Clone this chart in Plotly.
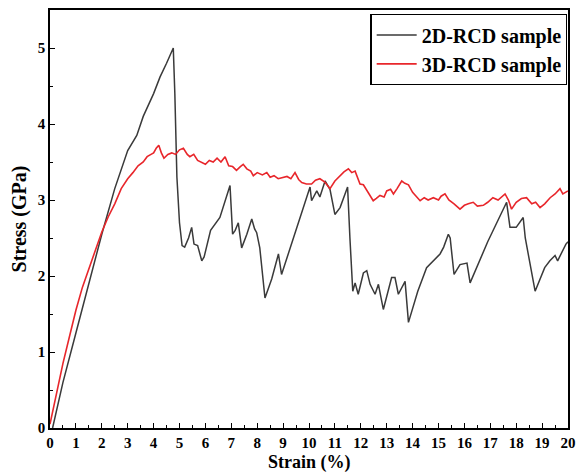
import plotly.graph_objects as go

strain_2d = [0.1, 0.5, 1.0, 1.5, 2.0, 2.5, 3.0, 3.35, 3.6, 4.0, 4.25, 4.5, 4.76, 4.82, 4.9, 5.0, 5.1, 5.2,
             5.35, 5.47, 5.56, 5.7, 5.86, 5.95, 6.2, 6.56, 6.95, 7.05, 7.15, 7.27, 7.4, 7.6, 7.79, 7.9, 7.98,
             8.1, 8.3, 8.56, 8.82, 8.94, 9.5, 10.04, 10.1, 10.3, 10.42, 10.62, 10.81, 11.0, 11.2, 11.49,
             11.58, 11.69, 11.78, 11.9, 12.1, 12.23, 12.36, 12.55, 12.68, 12.87, 13.19, 13.32, 13.45, 13.6,
             13.71, 13.84, 14.2, 14.54, 14.8, 15.06, 15.2, 15.38, 15.45, 15.6, 15.83, 16.1, 16.22, 16.9,
             17.63, 17.7, 17.76, 18.0, 18.27, 18.35, 18.47, 18.73, 19.1, 19.3, 19.5, 19.6, 19.92, 20.0]
stress_2d = [0.0, 0.6, 1.25, 1.9, 2.55, 3.15, 3.65, 3.85, 4.1, 4.4, 4.62, 4.8, 5.0, 4.4, 3.3, 2.7, 2.4, 2.38,
             2.5, 2.64, 2.42, 2.4, 2.2, 2.25, 2.6, 2.77, 3.19, 2.55, 2.6, 2.7, 2.37, 2.55, 2.75, 2.62, 2.57,
             2.37, 1.71, 1.96, 2.29, 2.02, 2.6, 3.17, 2.99, 3.12, 3.04, 3.25, 3.14, 2.81, 2.9, 3.17,
             2.5, 1.8, 1.91, 1.76, 2.04, 2.07, 1.89, 1.76, 1.89, 1.56, 1.98, 1.98, 1.76, 1.85,
             1.93, 1.39, 1.8, 2.11, 2.2, 2.29, 2.38, 2.55, 2.5, 2.02, 2.15, 2.17, 1.91, 2.45,
             2.97, 2.8, 2.64, 2.64, 2.77, 2.5, 2.29, 1.8, 2.11, 2.2, 2.27, 2.2, 2.42, 2.45]

strain_3d = [0, 0.25, 0.5, 0.75, 1.0, 1.25, 1.5, 1.75, 2.0, 2.25, 2.5, 2.75, 3.0, 3.2, 3.4, 3.6, 3.75, 3.9,
             4.0, 4.1, 4.2, 4.3, 4.4, 4.55, 4.7, 4.85, 5.0, 5.15, 5.3, 5.4, 5.55, 5.7, 5.85, 6.0, 6.15, 6.3,
             6.45, 6.6, 6.76, 6.9, 7.05, 7.2, 7.35, 7.46, 7.6, 7.75, 7.85, 8.0, 8.2, 8.37, 8.5, 8.65, 8.81,
             9.0, 9.15, 9.3, 9.46, 9.6, 9.72, 9.9, 10.1, 10.25, 10.42, 10.6, 10.81, 11.0, 11.2, 11.35, 11.52,
             11.65, 11.78, 11.9, 11.97, 12.1, 12.3, 12.48, 12.6, 12.74, 12.9, 13.0, 13.15, 13.26, 13.4,
             13.58, 13.7, 13.84, 14.0, 14.15, 14.29, 14.45, 14.6, 14.8, 15.0, 15.1, 15.25, 15.4, 15.6,
             15.83, 16.0, 16.15, 16.34, 16.5, 16.73, 16.9, 17.1, 17.3, 17.57, 17.7, 17.82, 18.0, 18.2,
             18.4, 18.6, 18.75, 18.92, 19.1, 19.31, 19.5, 19.69, 19.8, 19.92, 20.0]
stress_3d = [0.05, 0.45, 0.85, 1.2, 1.55, 1.85, 2.1, 2.35, 2.58, 2.78, 2.95, 3.15, 3.28, 3.36, 3.45, 3.5,
             3.57, 3.6, 3.62, 3.68, 3.72, 3.62, 3.55, 3.6, 3.62, 3.6, 3.66, 3.68, 3.6, 3.57, 3.6, 3.52,
             3.5, 3.47, 3.52, 3.5, 3.55, 3.5, 3.57, 3.45, 3.44, 3.39, 3.44, 3.47, 3.41, 3.38, 3.32, 3.36,
             3.33, 3.36, 3.3, 3.32, 3.28, 3.3, 3.31, 3.28, 3.36, 3.27, 3.23, 3.21, 3.21, 3.26, 3.28, 3.24,
             3.15, 3.25, 3.32, 3.37, 3.41, 3.36, 3.38, 3.26, 3.21, 3.2, 3.08, 2.99, 3.02, 3.06, 3.04, 3.12,
             3.14, 3.08, 3.15, 3.25, 3.22, 3.2, 3.1, 3.05, 2.99, 3.03, 3.0, 3.03, 3.0, 3.05, 3.08, 3.0,
             2.95, 2.88, 2.93, 2.95, 2.97, 2.92, 2.93, 2.97, 3.03, 3.0, 3.08, 3.0, 2.88, 2.97, 3.02, 3.03,
             2.95, 2.97, 2.9, 2.95, 3.03, 3.08, 3.15, 3.08, 3.1, 3.12]

font_family = "Liberation Serif"

fig = go.Figure()
fig.add_trace(go.Scatter(x=strain_2d, y=stress_2d, mode="lines", name="2D-RCD sample",
                         line=dict(color="#3a3a3a", width=1.5)))
fig.add_trace(go.Scatter(x=strain_3d, y=stress_3d, mode="lines", name="3D-RCD sample",
                         line=dict(color="#e8262b", width=1.6)))

axis_common = dict(
    showline=True, linecolor="black", linewidth=1.5, mirror=True,
    ticks="inside", ticklen=5, tickwidth=1.2, tickcolor="black",
    showgrid=False, zeroline=False, automargin=False,
    tickfont=dict(family=font_family, size=15, color="black", weight="bold"),
    minor=dict(ticks="inside", ticklen=3, tickwidth=1, tickcolor="black", dtick=0.5, showgrid=False),
)

fig.update_xaxes(range=[0, 20], dtick=1, tick0=0, ticklabelstandoff=0, **axis_common)
fig.update_yaxes(range=[0, 5.5], dtick=1, tick0=0,
                 title=dict(text="<b>Stress (GPa)</b>", font=dict(family=font_family, size=20, color="black"),
                            standoff=6),
                 **axis_common)

fig.update_layout(
    width=577, height=475,
    margin=dict(l=50, r=9, t=10, b=47),
    plot_bgcolor="white", paper_bgcolor="white",
    legend=dict(x=0.999, y=0.99, xanchor="right", yanchor="top",
                bordercolor="black", borderwidth=1.2, bgcolor="white",
                font=dict(family=font_family, size=20, color="black", weight="bold"),
                tracegroupgap=0, itemwidth=40),
    annotations=[dict(text="<b>Strain (%)</b>", xref="paper", yref="paper", x=0.5, y=0,
                      yshift=-23, xanchor="center", yanchor="top", showarrow=False, borderpad=0,
                      font=dict(family=font_family, size=18, color="black"))],
)

fig.write_html("out.html")
